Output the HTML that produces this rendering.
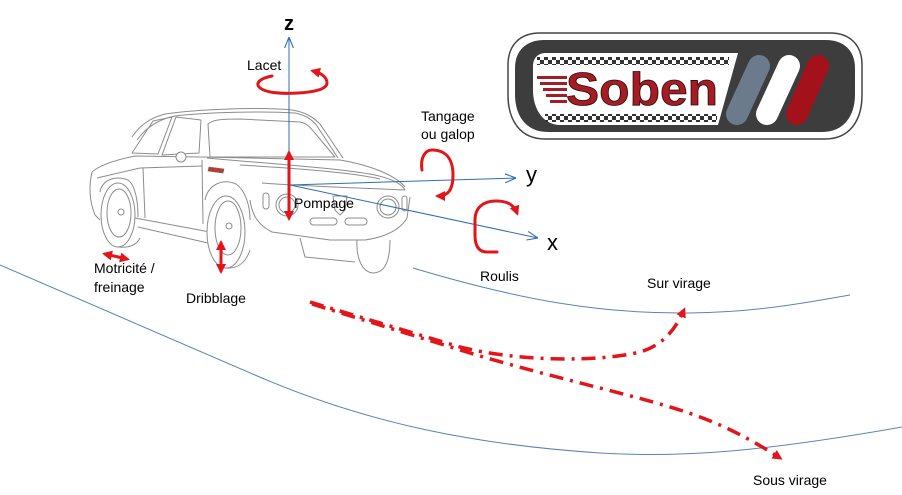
<!DOCTYPE html>
<html><head><meta charset="utf-8"><style>
html,body{margin:0;padding:0;background:#fff;}
svg{display:block;}
text{font-family:"Liberation Sans",sans-serif;}
</style></head><body>
<svg width="902" height="495" viewBox="0 0 902 495" xmlns="http://www.w3.org/2000/svg">
<defs>
<marker id="ah" viewBox="0 0 10 10" refX="7" refY="5" markerWidth="10" markerHeight="10" markerUnits="userSpaceOnUse" orient="auto-start-reverse"><path d="M0,0 L10,5 L0,10 z" fill="#e3151a"/></marker>
<marker id="ob" viewBox="0 0 10 10" refX="10" refY="5" markerWidth="11" markerHeight="11" markerUnits="userSpaceOnUse" orient="auto"><path d="M0,1 L10,5 L0,9" fill="none" stroke="#2f6fb0" stroke-width="1"/></marker>
<pattern id="chk" x="0" y="0" width="8" height="8" patternUnits="userSpaceOnUse"><rect x="0" y="0" width="4" height="4" fill="#333"/><rect x="4" y="4" width="4" height="4" fill="#333"/></pattern>
</defs>

<!-- roads -->
<path d="M0,265 L255,375 C370,425 480,445 600,453 C680,458 760,452 902,427" fill="none" stroke="#5b83b5" stroke-width="1"/>
<path d="M413,268 C520,300 600,314 690,313 C760,312 810,302 850,295" fill="none" stroke="#5b83b5" stroke-width="1"/>

<!-- car -->
<g fill="none" stroke="#8c8c8c" stroke-width="1" stroke-linejoin="round">
<path d="M132,137 C140,125 150,118 165,114 C200,109 260,107 292,110 C305,112 313,117 320,124 L343,158"/>
<path d="M137,140 C147,126 160,119 175,116 C210,112 265,111 295,113 C305,115 312,119 317,126 L338,158"/>
<path d="M132,153 L153,121 L172,117 L158,154 Z"/>
<path d="M176,117 L201,120 L199,153 L162,155 Z"/>
<path d="M208,124 C212,120 220,119 240,119 L300,122 C306,123 310,127 314,132 L335,157 L210,157 Z"/>
<path d="M92,172 C100,165 115,160 135,156 L200,157 L340,160 C370,165 395,175 405,187"/>
<path d="M92,172 C89,185 89,200 95,215 L100,220"/>
<path d="M97,178 L140,168 L202,166"/>
<path d="M135,218 L210,232"/>
<path d="M138,227 L208,243"/>
<path d="M100,192 C102,180 115,175 128,180 C135,185 138,200 138,217"/>
<ellipse cx="118" cy="215" rx="17" ry="32" fill="#fff"/>
<ellipse cx="119" cy="213" rx="12" ry="24"/>
<circle cx="121" cy="212" r="3"/>
<path d="M118,247 C128,248 136,246 140,238"/>
<path d="M143,168 L145,218"/>
<path d="M202,160 L203,224"/>
<circle cx="181" cy="157" r="5" fill="#fff"/>
<path d="M205,200 C208,185 222,178 236,184 C245,190 250,205 250,220"/>
<ellipse cx="226" cy="232" rx="19" ry="36" fill="#fff"/>
<ellipse cx="228" cy="228" rx="13" ry="27"/>
<circle cx="229" cy="226" r="3"/>
<path d="M226,268 C238,269 246,262 250,250"/>
<path d="M250,200 C252,215 258,225 272,232 L330,240 L365,240 C385,237 400,230 407,218 L410,197"/>
<path d="M262,183 C300,186 360,188 405,190"/>
<path d="M207,158 C260,163 340,168 375,175 C392,179 402,184 405,190"/>
<path d="M240,165 C290,168 350,172 380,179"/>
<circle cx="287" cy="205" r="11" fill="#fff"/>
<circle cx="287" cy="205" r="8"/>
<circle cx="388" cy="207" r="11"/>
<circle cx="388" cy="207" r="8"/>
<rect x="263" y="193" width="6" height="16" rx="3"/>
<rect x="402" y="196" width="5" height="15" rx="2.5"/>
<path d="M333,196 L347,196 L345,210 L340,215 L335,210 Z"/>
<rect x="310" y="218" width="27" height="7" rx="3.5"/>
<rect x="345" y="218" width="22" height="7" rx="3.5"/>
<path d="M357,240 C356,258 362,272 373,273 C384,273 390,262 390,240"/>
<path d="M300,238 L305,257 L355,262"/>
</g>
<path d="M209,167 L224,169 L223,173 L208,171 Z" fill="#c0392b" stroke="#666" stroke-width="0.6"/>

<!-- axes -->
<g stroke="#2f6fb0" stroke-width="1" fill="none">
<line x1="289" y1="186" x2="289" y2="37" marker-end="url(#ob)"/>
<line x1="290" y1="185" x2="516" y2="178" marker-end="url(#ob)"/>
<line x1="290" y1="185" x2="538" y2="238" marker-end="url(#ob)"/>
</g>

<!-- red arrows -->
<g stroke="#e3151a" stroke-width="3" fill="none" stroke-linecap="round">
<line x1="289" y1="153" x2="289" y2="218" marker-start="url(#ah)" marker-end="url(#ah)"/>
<line x1="221" y1="243" x2="221" y2="271" marker-start="url(#ah)" marker-end="url(#ah)"/>
<line x1="105" y1="254" x2="127" y2="259" marker-start="url(#ah)" marker-end="url(#ah)"/>
<path d="M272,76 C262,78 255,82 259,87 C265,93 282,94 298,93 C315,92 327,89 327,83 C327,77 321,73 313,71" marker-end="url(#ah)"/>
<path d="M422,170 C420,158 425,150 432,150 C445,150 453,158 453,175 C453,190 448,196 438,196" marker-end="url(#ah)"/>
<path d="M497,252 L487,252 C478,252 475,245 475,235 L475,220 C475,207 484,201 496,201 C508,201 514,205 517,213" marker-end="url(#ah)"/>
</g>

<!-- trajectories -->
<g stroke="#e3151a" stroke-width="3.5" fill="none" stroke-dasharray="14 7 3 7">
<path d="M310,302 L460,347 C520,362 600,362 640,352 C664,345 676,328 684,310" marker-end="url(#ah)"/>
<path d="M312,304 L470,353 C560,380 650,398 700,417 C730,428 755,442 780,458" marker-end="url(#ah)"/>
</g>

<!-- labels -->
<g font-size="14" fill="#000">
<text x="247" y="70">Lacet</text>
<text x="421" y="121">Tangage</text>
<text x="421" y="139">ou galop</text>
<text x="480" y="281">Roulis</text>
<text x="294" y="208">Pompage</text>
<text x="94" y="273">Motricité /</text>
<text x="94" y="292">freinage</text>
<text x="186" y="303">Dribblage</text>
<text x="647" y="288">Sur virage</text>
<text x="753" y="485">Sous virage</text>
</g>
<text x="289" y="30" font-size="20" font-weight="bold" text-anchor="middle">z</text>
<text x="526" y="182" font-size="22">y</text>
<text x="547" y="250" font-size="22">x</text>

<!-- logo -->
<path d="M540,33 L830,33 C850,33 862,45 862,65 L862,95 C862,120 850,139 825,139 L545,139 C520,139 508,120 508,95 L508,65 C508,45 520,33 540,33 Z" fill="#fff" stroke="#444" stroke-width="1.5"/>
<path d="M544,40 L826,40 C843,40 855,50 855,68 L855,94 C855,116 844,132 822,132 L548,132 C526,132 515,116 515,94 L515,68 C515,50 527,40 544,40 Z" fill="#3d3d3d"/>
<path d="M546,53 L738,53 L718,125 L560,125 C545,125 534,112 533,92 L533,66 C533,58 538,53 546,53 Z" fill="#fff"/>
<rect x="537" y="57" width="192" height="8" fill="url(#chk)"/>
<rect x="545" y="114" width="172" height="8" fill="url(#chk)"/>
<g fill="#a51c24">
<rect x="537" y="76" width="30" height="3"/>
<rect x="540" y="82" width="27" height="3"/>
<rect x="543" y="88" width="24" height="3"/>
<rect x="546" y="94" width="21" height="3"/>
<rect x="550" y="100" width="17" height="3"/>
</g>
<text x="566" y="105" font-family="'DejaVu Serif','Liberation Serif',serif" font-weight="bold" font-size="46" textLength="152" lengthAdjust="spacingAndGlyphs" fill="#a51c24" stroke="#2a0a0a" stroke-width="0.8">Soben</text>
<g stroke-linecap="round" stroke-width="22">
<line x1="759" y1="66" x2="737" y2="114" stroke="#6c7b8b"/>
<line x1="789" y1="66" x2="767" y2="114" stroke="#fff"/>
<line x1="818" y1="66" x2="797" y2="114" stroke="#a3111a"/>
</g>
</svg>
</body></html>
